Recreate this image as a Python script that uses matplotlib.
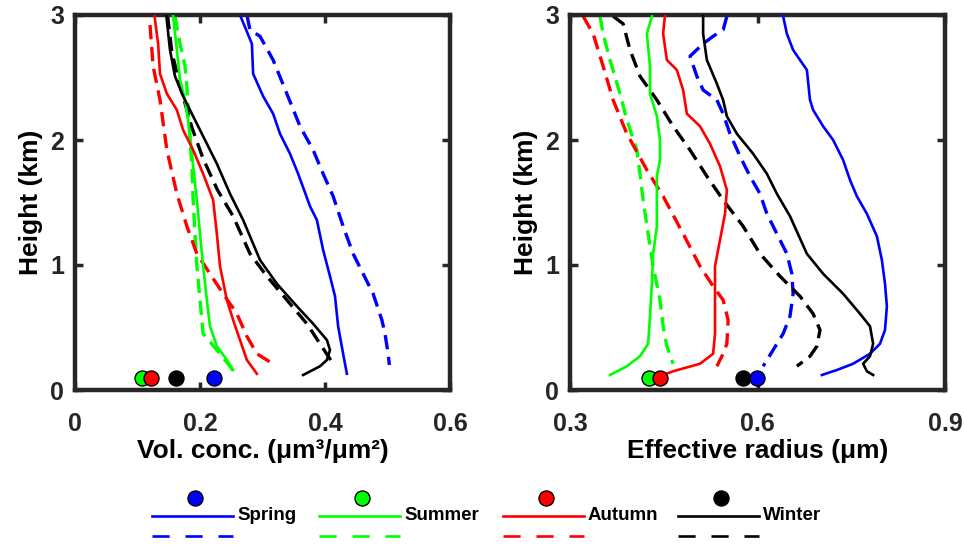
import matplotlib
matplotlib.use("Agg")
import matplotlib.pyplot as plt
from matplotlib.lines import Line2D

plt.rcParams['font.family'] = ['Liberation Sans', 'DejaVu Sans']
plt.rcParams['font.weight'] = 'bold'

seasons = ["Spring", "Summer", "Autumn", "Winter"]
colors = {"Spring": "#0000ff", "Summer": "#00ff00", "Autumn": "#ff0000", "Winter": "#000000"}

# ---- Volume concentration profiles (height in km, value in um^3/um^2) ----
vol_spring_solid_h = [3.0, 2.77, 2.53, 2.35, 2.21, 2.05, 1.89, 1.73, 1.47, 1.36, 1.12, 0.91, 0.75, 0.51, 0.29, 0.13]
vol_spring_solid_v = [0.264, 0.283, 0.285, 0.301, 0.317, 0.328, 0.344, 0.357, 0.376, 0.387, 0.397, 0.408, 0.416, 0.421, 0.429, 0.435]
vol_spring_dash_h = [3.0, 2.88, 2.83, 2.64, 2.37, 2.11, 1.92, 1.73, 1.55, 1.31, 1.09, 0.93, 0.77, 0.56, 0.45, 0.29, 0.2]
vol_spring_dash_v = [0.275, 0.28, 0.296, 0.317, 0.339, 0.36, 0.381, 0.397, 0.413, 0.429, 0.445, 0.461, 0.477, 0.491, 0.496, 0.501, 0.503]

vol_summer_solid_h = [2.99, 2.72, 2.48, 2.32, 2.05, 1.79, 1.52, 1.25, 0.99, 0.72, 0.51, 0.35, 0.24, 0.16]
vol_summer_solid_v = [0.157, 0.163, 0.168, 0.176, 0.184, 0.189, 0.195, 0.2, 0.205, 0.211, 0.216, 0.227, 0.243, 0.253]
vol_summer_dash_h = [2.99, 2.77, 2.59, 2.43, 2.24, 2.0, 1.79, 1.52, 1.25, 0.99, 0.72, 0.45, 0.32, 0.19, 0.13]
vol_summer_dash_v = [0.16, 0.168, 0.176, 0.179, 0.181, 0.184, 0.187, 0.189, 0.192, 0.195, 0.2, 0.205, 0.227, 0.248, 0.256]

vol_autumn_solid_h = [3.0, 2.77, 2.53, 2.37, 2.24, 2.08, 1.92, 1.73, 1.52, 1.25, 0.99, 0.72, 0.56, 0.4, 0.24, 0.13]
vol_autumn_solid_v = [0.127, 0.133, 0.136, 0.147, 0.163, 0.173, 0.189, 0.205, 0.221, 0.227, 0.232, 0.243, 0.253, 0.264, 0.275, 0.291]
vol_autumn_dash_h = [2.92, 2.59, 2.32, 1.92, 1.57, 1.31, 1.09, 0.93, 0.77, 0.61, 0.43, 0.29, 0.24, 0.2]
vol_autumn_dash_v = [0.12, 0.125, 0.136, 0.147, 0.163, 0.179, 0.195, 0.216, 0.237, 0.259, 0.275, 0.291, 0.307, 0.32]

vol_winter_solid_h = [3.0, 2.72, 2.51, 2.35, 2.19, 2.03, 1.81, 1.57, 1.36, 1.04, 0.85, 0.67, 0.53, 0.4, 0.32, 0.24, 0.19, 0.12]
vol_winter_solid_v = [0.146, 0.152, 0.16, 0.173, 0.189, 0.205, 0.227, 0.248, 0.269, 0.296, 0.323, 0.355, 0.381, 0.403, 0.408, 0.403, 0.392, 0.365]
vol_winter_dash_h = [3.0, 2.7, 2.4, 2.1, 1.85, 1.6, 1.39, 1.09, 0.91, 0.72, 0.53, 0.37, 0.21]
vol_winter_dash_v = [0.148, 0.155, 0.17, 0.187, 0.205, 0.228, 0.253, 0.28, 0.307, 0.339, 0.371, 0.392, 0.413]

# ---- Effective radius profiles (height in km, value in um) ----
reff_spring_solid_h = [2.99, 2.85, 2.72, 2.56, 2.32, 2.24, 2.11, 2.0, 1.84, 1.68, 1.55, 1.41, 1.23, 1.04, 0.85, 0.67, 0.48, 0.37, 0.29, 0.21, 0.16, 0.12]
reff_spring_solid_v = [0.641, 0.647, 0.657, 0.679, 0.684, 0.689, 0.705, 0.721, 0.737, 0.748, 0.759, 0.775, 0.791, 0.799, 0.804, 0.807, 0.804, 0.796, 0.78, 0.753, 0.727, 0.703]
reff_spring_dash_h = [2.99, 2.88, 2.83, 2.77, 2.67, 2.51, 2.4, 2.32, 2.21, 2.05, 1.87, 1.71, 1.57, 1.41, 1.25, 1.09, 0.93, 0.77, 0.59, 0.45, 0.32, 0.19]
reff_spring_dash_v = [0.551, 0.545, 0.529, 0.513, 0.492, 0.503, 0.513, 0.535, 0.545, 0.556, 0.572, 0.588, 0.604, 0.615, 0.631, 0.647, 0.655, 0.657, 0.652, 0.641, 0.625, 0.609]

reff_summer_solid_h = [2.99, 2.85, 2.59, 2.37, 2.19, 2.0, 1.84, 1.71, 1.52, 1.31, 1.09, 0.85, 0.59, 0.37, 0.27, 0.19, 0.12]
reff_summer_solid_v = [0.431, 0.423, 0.428, 0.428, 0.439, 0.444, 0.444, 0.439, 0.439, 0.439, 0.433, 0.431, 0.428, 0.425, 0.412, 0.391, 0.364]
reff_summer_dash_h = [2.99, 2.85, 2.64, 2.37, 2.16, 1.92, 1.73, 1.52, 1.25, 0.99, 0.72, 0.51, 0.35, 0.21]
reff_summer_dash_v = [0.348, 0.353, 0.364, 0.38, 0.391, 0.407, 0.412, 0.417, 0.425, 0.433, 0.444, 0.449, 0.455, 0.465]

reff_autumn_solid_h = [3.0, 2.85, 2.64, 2.56, 2.4, 2.21, 2.11, 1.97, 1.79, 1.6, 1.41, 1.2, 0.99, 0.72, 0.45, 0.29, 0.21, 0.15, 0.12]
reff_autumn_solid_v = [0.452, 0.449, 0.455, 0.471, 0.481, 0.487, 0.508, 0.524, 0.54, 0.551, 0.548, 0.54, 0.532, 0.532, 0.532, 0.529, 0.508, 0.465, 0.449]
reff_autumn_dash_h = [2.99, 2.85, 2.59, 2.32, 2.05, 1.76, 1.55, 1.25, 0.99, 0.83, 0.72, 0.56, 0.37, 0.29, 0.19]
reff_autumn_dash_v = [0.321, 0.337, 0.353, 0.369, 0.391, 0.423, 0.449, 0.481, 0.508, 0.529, 0.545, 0.553, 0.551, 0.545, 0.535]

reff_winter_solid_h = [3.0, 2.85, 2.64, 2.45, 2.32, 2.19, 2.05, 1.89, 1.73, 1.57, 1.39, 1.09, 0.93, 0.77, 0.61, 0.51, 0.37, 0.27, 0.21, 0.15, 0.12]
reff_winter_solid_v = [0.513, 0.513, 0.519, 0.535, 0.545, 0.551, 0.567, 0.593, 0.615, 0.631, 0.652, 0.679, 0.705, 0.737, 0.764, 0.78, 0.785, 0.78, 0.769, 0.775, 0.785]
reff_winter_dash_h = [2.99, 2.93, 2.72, 2.51, 2.32, 2.11, 1.92, 1.71, 1.52, 1.31, 1.09, 0.91, 0.75, 0.61, 0.48, 0.35, 0.27, 0.19]
reff_winter_dash_v = [0.369, 0.385, 0.396, 0.412, 0.439, 0.465, 0.492, 0.519, 0.545, 0.577, 0.604, 0.636, 0.668, 0.689, 0.7, 0.695, 0.684, 0.663]

# ---- Column-mean values shown as dots near the surface ----
dot_height = 0.1
vol_dots = [0.223, 0.107, 0.121, 0.162]     # Spring, Summer, Autumn, Winter
reff_dots = [0.599, 0.426, 0.444, 0.577]    # Spring, Summer, Autumn, Winter

vol_x_ticks = [0, 0.2, 0.4, 0.6]
reff_x_ticks = [0.3, 0.6, 0.9]
height_ticks = [0, 1, 2, 3]

vol_profiles = {
    "Spring": (vol_spring_solid_h, vol_spring_solid_v, vol_spring_dash_h, vol_spring_dash_v),
    "Summer": (vol_summer_solid_h, vol_summer_solid_v, vol_summer_dash_h, vol_summer_dash_v),
    "Autumn": (vol_autumn_solid_h, vol_autumn_solid_v, vol_autumn_dash_h, vol_autumn_dash_v),
    "Winter": (vol_winter_solid_h, vol_winter_solid_v, vol_winter_dash_h, vol_winter_dash_v),
}
reff_profiles = {
    "Spring": (reff_spring_solid_h, reff_spring_solid_v, reff_spring_dash_h, reff_spring_dash_v),
    "Summer": (reff_summer_solid_h, reff_summer_solid_v, reff_summer_dash_h, reff_summer_dash_v),
    "Autumn": (reff_autumn_solid_h, reff_autumn_solid_v, reff_autumn_dash_h, reff_autumn_dash_v),
    "Winter": (reff_winter_solid_h, reff_winter_solid_v, reff_winter_dash_h, reff_winter_dash_v),
}

W, H = 964, 548
fig = plt.figure(figsize=(W / 100, H / 100), dpi=100)

frame_col = "#262626"
solid_lw = 1.9
dash_lw = 2.4
dash_pat = (4.3, 2.3)
marker_ms = 10.8


def px_axes(x0, y0, x1, y1):
    return fig.add_axes([x0 / W, 1 - y1 / H, (x1 - x0) / W, (y1 - y0) / H])


def draw_panel(ax, profiles, dots, xlim, xticks, xlabel):
    for s in ["Spring", "Summer", "Autumn", "Winter"]:
        sh, sv, dh, dv = profiles[s]
        ax.plot(dv, dh, color=colors[s], lw=dash_lw, ls=(0, dash_pat), zorder=2)
        ax.plot(sv, sh, color=colors[s], lw=solid_lw, zorder=3)
    for s in ["Summer", "Autumn", "Winter", "Spring"]:
        v = dots[seasons.index(s)]
        ax.plot([v], [dot_height], "o", ms=marker_ms, mfc=colors[s], mec="black",
                mew=1.0, zorder=5, clip_on=False)
    ax.set_xlim(*xlim)
    ax.set_ylim(0, 3)
    ax.set_xticks(xticks)
    ax.set_xticklabels([f"{t:g}" for t in xticks])
    ax.set_yticks(height_ticks)
    ax.tick_params(direction="in", length=6, width=2.5, color=frame_col,
                   labelcolor=frame_col, labelsize=18, top=True, right=True)
    ax.tick_params(axis="x", pad=16)
    ax.tick_params(axis="y", pad=8)
    for sp in ax.spines.values():
        sp.set_linewidth(3.2)
        sp.set_color(frame_col)
    ax.set_xlabel(xlabel, fontsize=19, fontweight="bold", labelpad=2)
    ax.set_ylabel("Height (km)", fontsize=19, fontweight="bold", labelpad=5)
    for lab in ax.get_xticklabels() + ax.get_yticklabels():
        lab.set_fontweight("bold")


ax1 = px_axes(75, 15, 450, 390)
draw_panel(ax1, vol_profiles, vol_dots, (0, 0.6), vol_x_ticks, "Vol. conc. (μm³/μm²)")

ax2 = px_axes(570, 15, 945, 390)
draw_panel(ax2, reff_profiles, reff_dots, (0.3, 0.9), reff_x_ticks, "Effective radius (μm)")

# ---- Legend row below the panels (layout in figure pixels) ----
lax = fig.add_axes([0, 0, 1, 1])
lax.set_xlim(0, W)
lax.set_ylim(H, 0)
lax.axis("off")
legend_x = [152, 319, 503, 678]
legend_len = 81
for s, x0 in zip(seasons, legend_x):
    c = colors[s]
    lax.add_line(Line2D([x0, x0 + legend_len], [516, 516], color=c, lw=1.9))
    lax.add_line(Line2D([x0, x0 + legend_len], [536, 536], color=c, lw=1.9,
                        ls=(0, (6.5, 6.0))))
    lax.plot([x0 + legend_len / 2 + 2], [498], "o", ms=marker_ms, mfc=c, mec="black", mew=1.0)
    lax.text(x0 + legend_len + 4, 516, s, fontsize=13.5, fontweight="bold",
             va="center", ha="left", color="black")

fig.savefig("out.png", dpi=100)
